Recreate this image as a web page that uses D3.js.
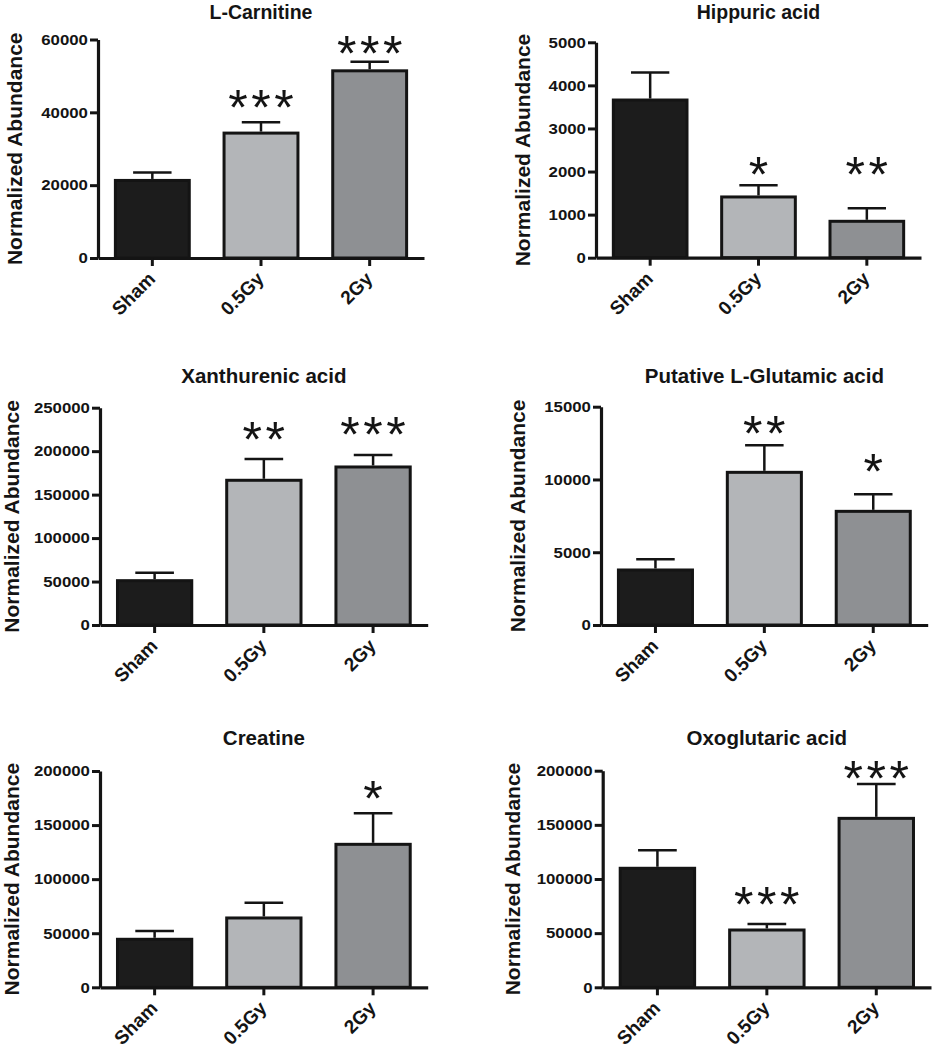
<!DOCTYPE html>
<html><head><meta charset="utf-8">
<script src="https://cdn.jsdelivr.net/npm/d3@7"></script>
<style>body{margin:0;background:#fff} svg{display:block}</style>
</head><body>
<svg id="c" width="932" height="1050"></svg>
<script>
// ---------- data ----------
const categories = ["Sham", "0.5Gy", "2Gy"];
const titles = ["L-Carnitine", "Hippuric acid", "Xanthurenic acid", "Putative L-Glutamic acid", "Creatine", "Oxoglutaric acid"];
const yLabel = "Normalized Abundance";
const means = [
  [21300, 34300, 51400],
  [3660, 1410, 845],
  [51000, 166500, 181800],
  [3780, 10490, 7810],
  [44400, 64100, 132200],
  [109900, 52900, 156000]
];
const upperErr = [
  [23500, 37300, 53900],
  [4300, 1680, 1150],
  [60200, 191000, 195600],
  [4510, 12350, 8980],
  [52100, 78200, 160900],
  [126500, 58500, 187700]
];
const stars = [
  ["", "***", "***"],
  ["", "*", "**"],
  ["", "**", "***"],
  ["", "**", "*"],
  ["", "", "*"],
  ["", "***", "***"]
];
const yTicks = [
  [0, 20000, 40000, 60000],
  [0, 1000, 2000, 3000, 4000, 5000],
  [0, 50000, 100000, 150000, 200000, 250000],
  [0, 5000, 10000, 15000],
  [0, 50000, 100000, 150000, 200000],
  [0, 50000, 100000, 150000, 200000]
];

// ---------- layout / style ----------
const layout = [
  {ax: 98,    ex: 424,   top: 39.5,  bot: 258,   ty: 18.5,  tf: 19.5, lx: 21.5},
  {ax: 596,   ex: 921,   top: 42.3,  bot: 257.7, ty: 18.5,  tf: 19.5, lx: 529.5},
  {ax: 100,   ex: 427.7, top: 407.7, bot: 625,   ty: 382.7, tf: 20.5, lx: 18.5},
  {ax: 601,   ex: 927.7, top: 406.7, bot: 625,   ty: 382.7, tf: 20.5, lx: 524.5},
  {ax: 100,   ex: 427.7, top: 771,   bot: 987.3, ty: 745,   tf: 20.5, lx: 18.5},
  {ax: 602.7, ex: 931,   top: 770.7, bot: 987.3, ty: 745,   tf: 20.5, lx: 519.5}
];
const starGap = [[0, 26.6, 19.4], [0, 22, 45], [0, 31, 31.7], [0, 23.6, 34], [0, 0, 26.6], [0, 30.7, 17.3]];
const fills = ["#1c1c1c", "#b3b5b8", "#8e9093"];
const INK = "#141414";
const FONT = "'Liberation Sans', Arial, Helvetica, sans-serif";
const STAR_FS = 50, STAR_SP = 23;

const svg = d3.select("#c");

layout.forEach((L, i) => {
  const g = svg.append("g");
  const x = d3.scaleBand().domain(categories).range([L.ax, L.ex]).paddingInner(0.32).paddingOuter(0.16);
  const y = d3.scaleLinear().domain([0, d3.max(yTicks[i])]).range([L.bot, L.top]);

  // bars
  g.selectAll("rect.bar").data(categories).join("rect")
    .attr("class", "bar")
    .attr("x", d => x(d))
    .attr("y", (d, j) => y(means[i][j]))
    .attr("width", x.bandwidth())
    .attr("height", (d, j) => y(0) - y(means[i][j]))
    .attr("fill", (d, j) => fills[j])
    .attr("stroke", INK).attr("stroke-width", 3);

  // error bars (upper only)
  const cx = d => x(d) + x.bandwidth() / 2;
  const capW = x.bandwidth() * 0.26;
  g.selectAll("line.err").data(categories).join("line")
    .attr("class", "err")
    .attr("x1", cx).attr("x2", cx)
    .attr("y1", (d, j) => y(means[i][j]) - 1.5)
    .attr("y2", (d, j) => y(upperErr[i][j]))
    .attr("stroke", INK).attr("stroke-width", 2.5);
  g.selectAll("line.cap").data(categories).join("line")
    .attr("class", "cap")
    .attr("x1", d => cx(d) - capW).attr("x2", d => cx(d) + capW)
    .attr("y1", (d, j) => y(upperErr[i][j]))
    .attr("y2", (d, j) => y(upperErr[i][j]))
    .attr("stroke", INK).attr("stroke-width", 2.5);

  // y axis
  const ya = g.append("g").attr("transform", `translate(${L.ax},0)`)
    .call(d3.axisLeft(y).tickValues(yTicks[i]).tickFormat(d3.format("d")).tickSize(8).tickSizeOuter(0).tickPadding(1));
  ya.select(".domain").attr("stroke", INK).attr("stroke-width", 3.2);
  ya.selectAll(".tick line").attr("stroke", INK).attr("stroke-width", 3);
  ya.selectAll(".tick text").attr("font-family", FONT).attr("font-weight", "bold")
    .attr("font-size", 15).attr("fill", INK).attr("transform", "scale(1.12,1)");

  // x axis
  const xa = g.append("g").attr("transform", `translate(0,${L.bot})`)
    .call(d3.axisBottom(x).tickSize(8).tickSizeOuter(0).tickFormat(""));
  xa.select(".domain").attr("stroke", INK).attr("stroke-width", 3.2);
  xa.selectAll(".tick line").attr("stroke", INK).attr("stroke-width", 3);

  g.selectAll("text.xl").data(categories).join("text")
    .attr("class", "xl")
    .attr("transform", d => `translate(${cx(d) + 4},${L.bot + 22}) rotate(-45)`)
    .attr("text-anchor", "end")
    .attr("font-family", FONT).attr("font-weight", "bold").attr("font-size", 19)
    .attr("fill", INK)
    .text(d => d);

  // y label
  g.append("text")
    .attr("transform", `translate(${L.lx},${(L.top + L.bot) / 2}) rotate(-90)`)
    .attr("text-anchor", "middle")
    .attr("font-family", FONT).attr("font-weight", "bold").attr("font-size", 21)
    .attr("fill", INK)
    .text(yLabel);

  // title
  g.append("text")
    .attr("x", (L.ax + L.ex) / 2).attr("y", L.ty)
    .attr("text-anchor", "middle")
    .attr("font-family", FONT).attr("font-weight", "bold").attr("font-size", L.tf)
    .attr("fill", INK)
    .text(titles[i]);

  // significance stars
  categories.forEach((c, j) => {
    const s = stars[i][j];
    if (!s) return;
    const yc = y(upperErr[i][j]) - starGap[i][j];
    const n = s.length;
    for (let k = 0; k < n; k++) {
      g.append("text")
        .attr("x", cx(c) + (k - (n - 1) / 2) * STAR_SP)
        .attr("y", yc + STAR_FS * 0.58)
        .attr("text-anchor", "middle")
        .attr("font-family", FONT).attr("font-size", STAR_FS)
        .attr("fill", INK)
        .text("*");
    }
  });
});
</script>
</body></html>
